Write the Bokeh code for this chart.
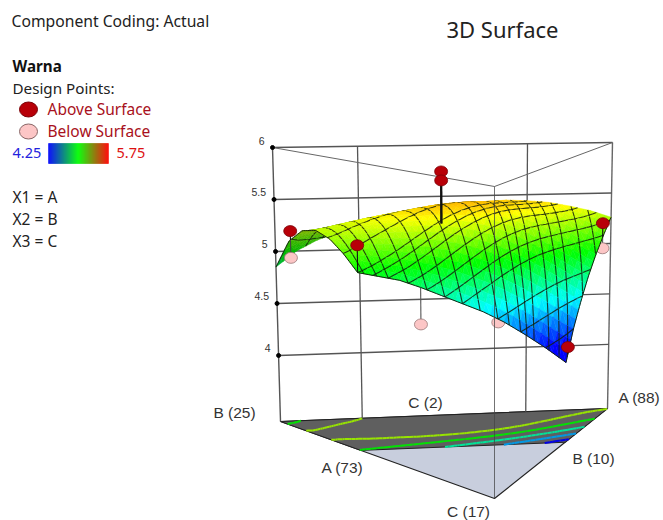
from bokeh.plotting import figure
from bokeh.models import ColumnDataSource
from bokeh.core.properties import value
from bokeh.embed import file_html
from bokeh.resources import INLINE

# ---- values --------------------------------------------------------------
# Warna over the mixture region; row m is C level m/16 of the C range, entry i is A level i/16.
warna_c0 = [4.85,5.00,5.10,5.17,5.25,5.29,5.33,5.37,5.40,5.43,5.44,5.45,5.44,5.42,5.38,5.33,5.26]
warna_c1 = [5.13,5.20,5.26,5.31,5.35,5.39,5.43,5.47,5.49,5.49,5.48,5.45,5.40,5.33,5.24,5.12]
warna_c2 = [5.26,5.30,5.34,5.38,5.41,5.44,5.47,5.49,5.49,5.47,5.42,5.33,5.21,5.09,4.97]
warna_c3 = [5.29,5.31,5.33,5.35,5.37,5.39,5.40,5.38,5.34,5.27,5.17,5.05,4.93,4.80]
warna_c4 = [5.24,5.25,5.26,5.25,5.25,5.23,5.20,5.14,5.07,4.97,4.86,4.74,4.60]
warna_c5 = [5.13,5.11,5.09,5.06,5.03,4.97,4.90,4.82,4.73,4.62,4.50,4.38]
warna_c6 = [4.99,4.95,4.91,4.84,4.76,4.68,4.60,4.50,4.38,4.25,4.107]
Z = [warna_c0, warna_c1, warna_c2, warna_c3, warna_c4, warna_c5, warna_c6]

above_a = [0.00, 0.00, 0.365, 0.365, 0.93, 0.64]
above_b = [0.93, 0.625, 0.435, 0.435, 0.00, 0.00]
above_c = [0.07, 0.375, 0.20, 0.20, 0.07, 0.36]
above_z = [5.23, 5.24, 5.83, 5.745, 5.24, 4.24]

below_a = [0.00, 0.1875, 0.42, 0.93]
below_b = [0.93, 0.4375, 0.205, 0.00]
below_c = [0.07, 0.375, 0.375, 0.07]
below_z = [4.975, 4.50, 4.498, 4.995]

z_ticks = [4, 4.5, 5, 5.5, 6]
z_tick_labels = ["4", "4.5", "5", "5.5", "6"]
contour_levels = [4.25, 4.5, 4.75, 5.0, 5.25]
# mesh lines: share of A in A+B at the back and at the front of the region
wire_back  = [0.09,0.14,0.19,0.24,0.29,0.34,0.39,0.45,0.51,0.56,0.61,0.655,0.70,0.74,0.78,0.82,0.88,0.93]
wire_front = [0.03,0.09,0.146,0.24,0.33,0.415,0.50,0.585,0.67,0.725,0.78,0.81,0.845,0.917,0.966,1.005,1.07,1.135]
wire_d = [-0.3125,-0.2375,-0.169,-0.0625,-0.01,0.044,0.10,0.159,0.205,0.25,0.38,0.52,0.70,0.85]
C_MAX = 0.375
color_low, color_high = 4.25, 5.75

# ---- projection of the 3D box onto the page -------------------------------
FA, TA = (607, 408), (612, 142)
FB, TB = (280, 421), (272, 147)
FC, TC = (494, 498), (494, 186)
Z0, Z1 = 3.365, 6.0

def proj(a, b, c, z):
    t = (z - Z0) / (Z1 - Z0)
    fx = a*FA[0] + b*FB[0] + c*FC[0]; fy = a*FA[1] + b*FB[1] + c*FC[1]
    tx = a*TA[0] + b*TB[0] + c*TC[0]; ty = a*TA[1] + b*TB[1] + c*TC[1]
    return fx + (tx - fx)*t, fy + (ty - fy)*t

def lattice_value(T, n, a, c):
    u, m = a*n, c*n
    top = len(T) - 2
    m0 = max(min(int(m), top), 0)
    i0 = max(min(int(u), n - m0 - 1), 0)
    fu, fm = u - i0, m - m0
    if fu + fm <= 1 or i0 + 1 >= len(T[m0+1]):
        return T[m0][i0]*(1-fu-fm) + T[m0][i0+1]*fu + T[m0+1][i0]*fm
    return T[m0+1][i0+1]*(fu+fm-1) + T[m0+1][i0]*(1-fu) + T[m0][i0+1]*(1-fm)

# a finer copy of the table, eased so that the drawn surface has no facets
NF = 48
ROWS = int(C_MAX*NF)
F = [[lattice_value(Z, 16, i/NF, m/NF) for i in range(NF-m+1)] for m in range(ROWS+1)]
for _ in range(8):
    G = [row[:] for row in F]
    for m in range(1, ROWS):
        for i in range(1, NF-m):
            G[m][i] = (F[m][i]*2 + F[m][i-1] + F[m][i+1] + F[m-1][i] + F[m-1][i+1] + F[m+1][i] + F[m+1][i-1]) / 8
    F = G

def surf(a, c):
    return lattice_value(F, NF, a, c)

def rainbow(z, k=1.0):
    stops = [(0,0,255),(0,255,255),(0,255,0),(255,255,0),(255,0,0)]
    t = max(0, min(0.9999, (z - color_low)/(color_high - color_low)))*4
    n = int(t); f = t - n
    r = [(stops[n][q] + (stops[n+1][q]-stops[n][q])*f)*k for q in range(3)]
    return "#%02x%02x%02x" % tuple(int(v) for v in r)

def bar_color(t):
    if t < .5:
        f = t*2; r = (0, 255*f, 255*(1-f))
    else:
        f = (t-.5)*2; r = (255*f, 255*(1-f), 0)
    return "#%02x%02x%02x" % tuple(int(v) for v in r)

W, H = 663, 520
p = figure(width=W, height=H, x_range=(0, W), y_range=(H, 0), output_backend="svg",
           toolbar_location=None, x_axis_location=None, y_axis_location=None,
           min_border=0, outline_line_color=None, background_fill_color="white")
p.grid.visible = False
SANS = value("Noto Sans")
ARIAL = value("Liberation Sans")

def seg(pts, color="#555555", width=1.2, alpha=1.0):
    p.line([q[0] for q in pts], [q[1] for q in pts], line_color=color, line_width=width, line_alpha=alpha)

def txt(x, y, s, size, color="#222222", font=SANS, align="left", style="normal"):
    p.text([x], [y], text=[s], text_font=font, text_font_size=size, text_color=color,
           text_align=align, text_baseline="middle", text_font_style=style)

# ---- floor ---------------------------------------------------------------
fl = lambda a,b,c: proj(a,b,c,Z0)
tri = [fl(1,0,0), fl(0,0,1), fl(0,1,0)]
p.patch([q[0] for q in tri], [q[1] for q in tri], fill_color="#c8cedd", line_color="#222222", line_width=1.2)
reg = [fl(1,0,0), fl(1-C_MAX,0,C_MAX), fl(0,1-C_MAX,C_MAX), fl(0,1,0)]
p.patch([q[0] for q in reg], [q[1] for q in reg], fill_color="#5f5f5f", line_color="#222222", line_width=1)

# floor contours from the table
for lev0 in contour_levels:
    lev = lev0 + 1.3e-4
    xs, ys = [], []
    for m in range(ROWS):
        for i in range(0, NF-m):
            tris = [[(i,m),(i+1,m),(i,m+1)]]
            if i+1 <= NF-m-1:
                tris.append([(i+1,m),(i+1,m+1),(i,m+1)])
            for t in tris:
                v = [(q[0]/NF, q[1]/NF, F[q[1]][q[0]]) for q in t]
                cr = []
                for e in range(3):
                    v1, v2 = v[e], v[(e+1)%3]
                    if (v1[2]-lev)*(v2[2]-lev) < 0:
                        f = (lev-v1[2])/(v2[2]-v1[2])
                        cr.append((v1[0]+(v2[0]-v1[0])*f, v1[1]+(v2[1]-v1[1])*f))
                if len(cr) == 2:
                    a1,c1 = cr[0]; a2,c2 = cr[1]
                    q1 = fl(a1,1-a1-c1,c1); q2 = fl(a2,1-a2-c2,c2)
                    xs.append([q1[0],q2[0]]); ys.append([q1[1],q2[1]])
    p.multi_line(xs, ys, line_color=rainbow(lev0, 0.9), line_width=2)

# ---- walls ---------------------------------------------------------------
seg([proj(0,1,0,Z0), proj(0,1,0,Z1)], width=1.4)
seg([proj(1,0,0,Z0), proj(1,0,0,Z1)], width=1.4, color="#666666")
seg([proj(0,1,0,Z1), proj(1,0,0,Z1)], width=1.4, color="#555555")
seg([proj(0.25,0.75,0,Z0), proj(0.25,0.75,0,Z1)], width=1.3)
seg([proj(0.75,0.25,0,Z0), proj(0.75,0.25,0,Z1)], width=1.3)
for zt in z_ticks[:-1]:
    seg([proj(0,1,0,zt), proj(1,0,0,zt)], width=1.4, color="#555555")
seg([proj(0,1,0,Z1), proj(0,0,1,Z1), proj(1,0,0,Z1)], width=1, color="#666666")
tx = [proj(0,1,0,zt)[0] for zt in z_ticks]; ty = [proj(0,1,0,zt)[1] for zt in z_ticks]
p.scatter(tx, ty, size=4, marker="circle", fill_color="black", line_color="black")
for zt, lab in zip(z_ticks, z_tick_labels):
    q = proj(0,1,0,zt)
    txt(q[0]-8, q[1]-7, lab, "10.5px", color="#333333", font=ARIAL, align="right")

# ---- points under the surface --------------------------------------------
def stem(a,b,c,z,width=1.1,color="#222222"):
    seg([proj(a,b,c,z), proj(a,b,c,surf(a,c))], color=color, width=width)
def pts(a,b,c,z,fill,line):
    q = [proj(*v) for v in zip(a,b,c,z)]
    p.ellipse([v[0] for v in q],[v[1] for v in q],width=13,height=11,fill_color=fill,line_color=line,line_width=0.8)
for v in zip(below_a[1:], below_b[1:], below_c[1:], below_z[1:]):
    stem(*v, color="#555555")
pts(below_a[1:], below_b[1:], below_c[1:], below_z[1:], "#fcc6c6", "#997777")

# ---- surface, row by row from the back ------------------------------------
def vertex(i, m):
    return i/NF, 1-i/NF-m/NF, m/NF, F[m][i]

WIRE = "#14200e"
def on_surface(a, c):
    return proj(a, 1-a-c, c, surf(a, c))

for m in range(ROWS):
    xs, ys, col = [], [], []
    tl = []
    for i in range(0, NF-m):
        tl.append([(i,m),(i+1,m),(i,m+1)])
        if i+1 <= NF-m-1:
            tl.append([(i+1,m),(i+1,m+1),(i,m+1)])
    for t in tl:
        v = [vertex(*q) for q in t]
        q = [proj(*w) for w in v]
        cross = (q[1][0]-q[0][0])*(q[2][1]-q[0][1]) - (q[1][1]-q[0][1])*(q[2][0]-q[0][0])
        zc = sum(w[3] for w in v)/3
        col.append(rainbow(zc, 1.0 if cross > 0 else 0.72))
        xs.append([w[0] for w in q]); ys.append([w[1] for w in q])
    src = ColumnDataSource(dict(xs=xs, ys=ys, c=col))
    p.patches("xs", "ys", source=src, fill_color="c", line_color="c", line_width=0.5)
    # wires belonging to this row, so that later rows may hide them
    c0, c1 = m/NF, (m+1)/NF
    wx, wy = [], []
    for sb, sf in zip(wire_back, wire_front):
        q = []
        for k in range(5):
            cv = c0 + (c1-c0)*k/4
            s = sb + (sf-sb)*cv/C_MAX
            if s <= 1:
                q.append(on_surface(s*(1-cv), cv))
        if len(q) > 1:
            wx.append([e[0] for e in q]); wy.append([e[1] for e in q])
    for d in wire_d:
        lo, hi = max(c0, -d), min(c1, (1-d)/2)
        if hi > lo:
            q = [on_surface(1-d-2*cv, cv) for cv in (lo+(hi-lo)*k/3 for k in range(4))]
            wx.append([e[0] for e in q]); wy.append([e[1] for e in q])
    if wx:
        p.multi_line(wx, wy, line_color=WIRE, line_width=1.1, line_alpha=0.85)

# outline of the surface
cs = [C_MAX*k/40 for k in range(41)]
seg([proj(1-v,0,v,surf(1-v,v)) for v in cs], color=WIRE, width=1)
seg([proj(0,1-v,v,surf(0,v)) for v in cs], color=WIRE, width=1)
aa = [(1-C_MAX)*k/40 for k in range(41)]
seg([proj(v,1-v-C_MAX,C_MAX,surf(v,C_MAX)) for v in aa], color=WIRE, width=1)

# ---- front edge of the box and points above --------------------------------
seg([proj(0,0,1,Z0), proj(0,0,1,Z1)], color="#444444", width=1, alpha=0.75)
for n, v in enumerate(zip(above_a, above_b, above_c, above_z)):
    stem(*v, width=2 if n in (2,3) else 1.1, color="#111111")
stem(below_a[0], below_b[0], below_c[0], below_z[0], color="#444444")
pts(above_a, above_b, above_c, above_z, "#b80008", "#7a0006")
pts(below_a[:1], below_b[:1], below_c[:1], below_z[:1], "#fcc6c6", "#997777")

# ---- corner labels ---------------------------------------------------------
for x, y, s in [(234,412,"B (25)"),(425,402,"C (2)"),(639,397,"A (88)"),
                (342,467,"A (73)"),(593,458,"B (10)"),(468,510.5,"C (17)")]:
    txt(x, y, s, "15.5px", color="#333333", font=ARIAL, align="center")

# ---- legend ----------------------------------------------------------------
txt(11, 20, "Component Coding: Actual", "15.7px")
txt(502, 28, "3D Surface", "22px", align="center")
txt(12, 65, "Warna", "15.2px", color="#111111", style="bold")
txt(12, 87, "Design Points:", "15.2px")
p.ellipse([28],[109],width=18,height=15,fill_color="#b80008",line_color="#7a0006")
p.ellipse([28],[131],width=18,height=15,fill_color="#fcc6c6",line_color="#886666")
txt(47, 108, "Above Surface", "15.5px", color="#a81020")
txt(47, 130, "Below Surface", "15.5px", color="#a81020")
txt(12, 152, "4.25", "14.5px", color="#2222dd")
txt(116, 152, "5.75", "14.5px", color="#dd1111")
nb = 60
bx0, bx1 = 48, 108
bc = [bar_color((k+.5)/nb) for k in range(nb)]
p.quad(left=[bx0+(bx1-bx0)*k/nb for k in range(nb)], right=[bx0+(bx1-bx0)*(k+1)/nb for k in range(nb)],
       top=[143]*nb, bottom=[163]*nb, fill_color=bc, line_color=bc, line_width=0.5)
txt(12, 196, "X1 = A", "15.5px")
txt(12, 218, "X2 = B", "15.5px")
txt(12, 240, "X3 = C", "15.5px")

open("out.html", "w").write(file_html(p, INLINE))
